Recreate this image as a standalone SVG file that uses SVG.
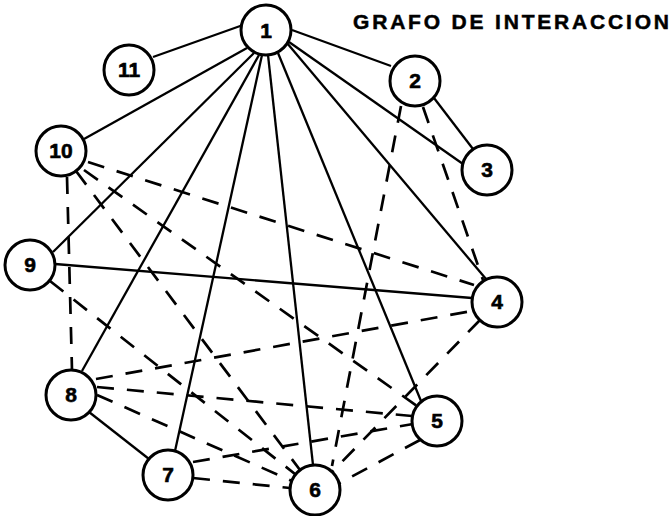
<svg xmlns="http://www.w3.org/2000/svg" width="672" height="516" viewBox="0 0 672 516">
  <style>
    .s { stroke: #000; stroke-width: 2.3; fill: none; }
    .d { stroke: #000; stroke-width: 2.7; fill: none; stroke-dasharray: 17 13; }
    .node circle { fill: #fff; stroke: #000; stroke-width: 3; }
    .node text { font-family: "Liberation Sans", Arial, sans-serif; font-weight: bold; font-size: 21px; text-anchor: middle; fill: #000; stroke: #000; stroke-width: 0.6; }
    .title { font-family: "Liberation Sans", Arial, sans-serif; font-weight: bold; font-size: 21px; fill: #000; stroke: #000; stroke-width: 0.5; }
  </style>
  <rect width="672" height="516" fill="#fff"/>

  <text class="title" x="353" y="29" textLength="316" lengthAdjust="spacing">GRAFO DE INTERACCION</text>

  <g id="connectors">
    <!-- solid interactions -->
    <line class="s" x1="153" y1="57" x2="243" y2="25"/>
    <line class="s" x1="84" y1="139" x2="247" y2="48"/>
    <line class="s" x1="53" y1="252" x2="254" y2="53"/>
    <line class="s" x1="82" y1="371" x2="259" y2="55"/>
    <line class="s" x1="175" y1="451" x2="262" y2="55"/>
    <line class="s" x1="313" y1="465" x2="268" y2="55"/>
    <line class="s" x1="421" y1="401" x2="278" y2="53"/>
    <line class="s" x1="486" y1="279" x2="287" y2="43"/>
    <line class="s" x1="463" y1="164" x2="289" y2="42"/>
    <line class="s" x1="391" y1="66" x2="292" y2="30"/>
    <line class="s" x1="434" y1="98" x2="473" y2="149"/>
    <line class="s" x1="55" y1="264" x2="472" y2="298"/>
    <line class="s" x1="89" y1="412" x2="149" y2="459"/>
    <!-- dashed interactions -->
    <line class="d" x1="67" y1="177" x2="72" y2="370"/>
    <line class="d" x1="88" y1="162" x2="474" y2="285"/>
    <line class="d" x1="84" y1="170" x2="417" y2="406"/>
    <line class="d" x1="76" y1="171" x2="300" y2="470"/>
    <line class="d" x1="50" y1="281" x2="295" y2="474"/>
    <line class="d" x1="96" y1="379" x2="472" y2="311"/>
    <line class="d" x1="97" y1="387" x2="412" y2="416"/>
    <line class="d" x1="97" y1="395" x2="292" y2="481"/>
    <line class="d" x1="193" y1="462" x2="413" y2="424"/>
    <line class="d" x1="193" y1="478" x2="290" y2="488"/>
    <line class="d" x1="401" y1="106" x2="332" y2="466"/>
    <line class="d" x1="480" y1="320" x2="332" y2="472"/>
    <line class="d" x1="420" y1="440" x2="338" y2="484"/>
    <line class="d" x1="423" y1="107" x2="483" y2="280"/>
  </g>

  <g id="n1" class="node"><circle cx="266" cy="30" r="25"/><text x="266" y="38">1</text></g>
  <g id="n2" class="node"><circle cx="415" cy="81" r="25"/><text x="415" y="88">2</text></g>
  <g id="n3" class="node"><circle cx="487" cy="170" r="25"/><text x="487" y="177">3</text></g>
  <g id="n4" class="node"><circle cx="497" cy="302" r="25"/><text x="497" y="309">4</text></g>
  <g id="n5" class="node"><circle cx="437" cy="421" r="25"/><text x="437" y="428">5</text></g>
  <g id="n6" class="node"><circle cx="315" cy="490" r="25"/><text x="315" y="497">6</text></g>
  <g id="n7" class="node"><circle cx="168" cy="475" r="25"/><text x="168" y="482">7</text></g>
  <g id="n8" class="node"><circle cx="71" cy="395" r="25"/><text x="71" y="402">8</text></g>
  <g id="n9" class="node"><circle cx="30" cy="265" r="25"/><text x="30" y="272">9</text></g>
  <g id="n10" class="node"><circle cx="61" cy="151" r="25"/><text x="61" y="158">10</text></g>
  <g id="n11" class="node"><circle cx="129" cy="70" r="25"/><text x="129" y="77">11</text></g>
</svg>
